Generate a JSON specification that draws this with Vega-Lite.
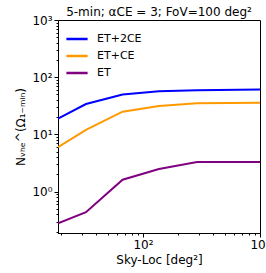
{
  "$schema": "https://vega.github.io/schema/vega-lite/v6.json",
  "autosize": "none",
  "width": 202,
  "height": 213,
  "padding": {"left": 58, "top": 20, "right": 6, "bottom": 40},
  "background": "white",
  "config": {
    "font": "DejaVu Sans",
    "view": {"stroke": "black", "strokeWidth": 1},
    "axis": {"labelFont": "DejaVu Sans", "titleFont": "DejaVu Sans", "labelColor": "black", "titleColor": "black", "domainColor": "black", "tickColor": "black", "grid": false, "titleFontWeight": "normal"}
  },
  "title": {"text": "5-min; αCE = 3; FoV=100 deg²", "fontSize": 12, "fontWeight": "normal", "font": "DejaVu Sans", "offset": -5, "color": "black"},
  "data": {"values": [
    {"s": "ET+2CE", "x": 18.8, "y": 19},
    {"s": "ET+2CE", "x": 32.6, "y": 34},
    {"s": "ET+2CE", "x": 67, "y": 50},
    {"s": "ET+2CE", "x": 137, "y": 57},
    {"s": "ET+2CE", "x": 290, "y": 59},
    {"s": "ET+2CE", "x": 1000, "y": 61},
    {"s": "ET+CE", "x": 18.8, "y": 6.0},
    {"s": "ET+CE", "x": 32.6, "y": 12},
    {"s": "ET+CE", "x": 67, "y": 25},
    {"s": "ET+CE", "x": 137, "y": 31.5},
    {"s": "ET+CE", "x": 290, "y": 35},
    {"s": "ET+CE", "x": 1000, "y": 35.7},
    {"s": "ET", "x": 18.8, "y": 0.28},
    {"s": "ET", "x": 32.6, "y": 0.44},
    {"s": "ET", "x": 67, "y": 1.62},
    {"s": "ET", "x": 137, "y": 2.5},
    {"s": "ET", "x": 290, "y": 3.3},
    {"s": "ET", "x": 1000, "y": 3.3}
  ]},
  "layer": [
    {
      "mark": {"type": "line", "strokeWidth": 2, "clip": true},
      "encoding": {
        "x": {"field": "x", "type": "quantitative",
          "scale": {"type": "log", "domain": [18.8, 1000], "nice": false},
          "axis": {"values": [100, 1000], "labelExpr": "datum.value == 1000 ? '10³' : '10²'", "labelFontSize": 12, "tickSize": 4, "labelPadding": 2, "title": "Sky-Loc [deg²]", "titleFontSize": 12, "titlePadding": 4, "labelFlush": false}},
        "y": {"field": "y", "type": "quantitative",
          "scale": {"type": "log", "domain": [0.19, 1000], "nice": false},
          "axis": {"values": [1, 10, 100, 1000], "labelExpr": "datum.value == 1000 ? '10³' : datum.value == 100 ? '10²' : datum.value == 10 ? '10¹' : '10⁰'", "labelFontSize": 12, "tickSize": 4, "labelPadding": 2, "title": "Nᵥₕₑ^(Ω₁₋ₘᵢₙ)", "titleFontSize": 12, "titlePadding": 4, "labelFlush": false}},
        "color": {"field": "s", "type": "nominal",
          "scale": {"domain": ["ET+2CE", "ET+CE", "ET"], "range": ["#0000ff", "#ff9900", "#800080"]},
          "legend": {"title": null, "orient": "top-left", "symbolType": "stroke", "symbolStrokeWidth": 2.5, "symbolSize": 450, "labelFontSize": 11, "labelColor": "black", "rowPadding": -7, "offset": 5, "padding": 2, "labelOffset": 8}}
      }
    },
    {
      "mark": {"type": "line", "opacity": 0},
      "encoding": {
        "x": {"field": "x", "type": "quantitative",
          "axis": {"orient": "bottom", "values": [20, 30, 40, 50, 60, 70, 80, 90, 200, 300, 400, 500, 600, 700, 800, 900], "labels": false, "tickSize": 2, "domain": false, "title": null}},
        "y": {"field": "y", "type": "quantitative",
          "axis": {"orient": "left", "values": [0.2, 0.3, 0.4, 0.5, 0.6, 0.7, 0.8, 0.9, 2, 3, 4, 5, 6, 7, 8, 9, 20, 30, 40, 50, 60, 70, 80, 90, 200, 300, 400, 500, 600, 700, 800, 900], "labels": false, "tickSize": 2, "domain": false, "title": null}},
        "detail": {"field": "s"}
      }
    }
  ],
  "resolve": {"axis": {"x": "independent", "y": "independent"}}
}
